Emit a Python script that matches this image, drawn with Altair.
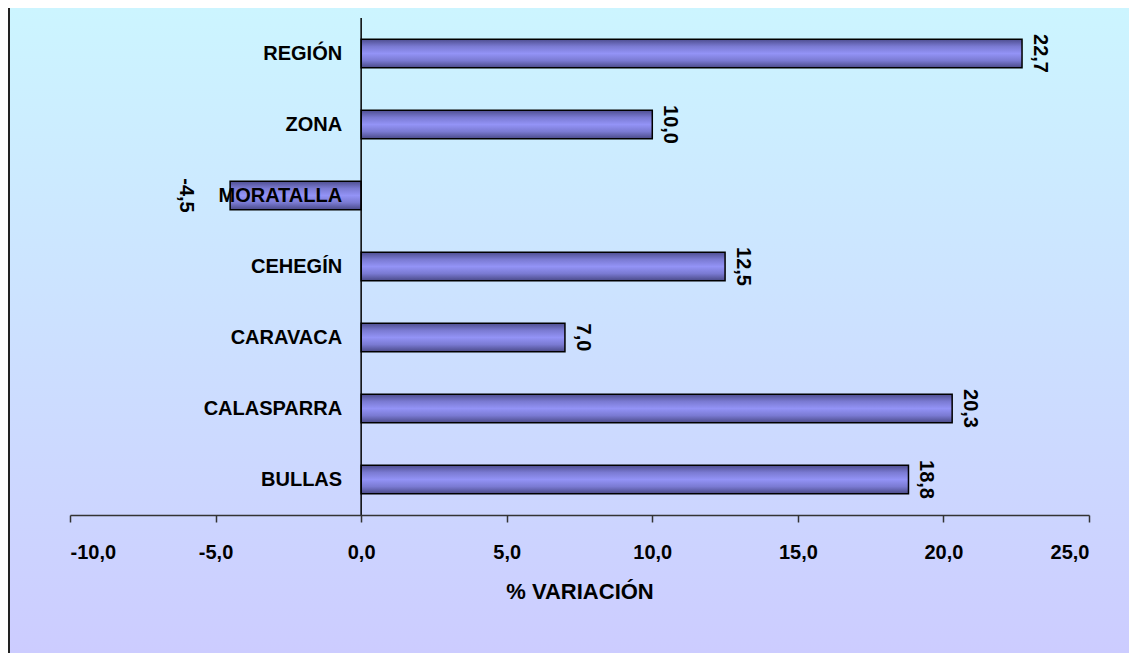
import altair as alt
import pandas as pd

categories = ["REGIÓN", "ZONA", "MORATALLA", "CEHEGÍN", "CARAVACA", "CALASPARRA", "BULLAS"]
values = [22.7, 10.0, -4.5, 12.5, 7.0, 20.3, 18.8]
x_ticks = [-10, -5, 0, 5, 10, 15, 20, 25]

df = pd.DataFrame({"cat": categories, "value": values})

W, H = 1019, 497
PAD = {"left": 62, "top": 10, "right": 40, "bottom": 138}
FONT = "Liberation Sans"
FMT = "replace(replace(format(datum.value, '.1f'), '.', ','), '\u2212', '-')"

xscale = alt.Scale(domain=[-10, 25], nice=False, zero=False)
yscale = alt.Scale(domain=categories, paddingInner=0.6, paddingOuter=0.3)

bg = alt.Chart(alt.Data(values=[{}])).mark_rect(
    color=alt.Gradient(
        gradient="linear",
        stops=[alt.GradientStop(color="#CCF5FF", offset=0),
               alt.GradientStop(color="#CCCCFF", offset=1)],
        x1=0, x2=0, y1=0, y2=1,
    )
).encode(
    x=alt.value(-PAD["left"]), x2=alt.value(W + PAD["right"]),
    y=alt.value(-PAD["top"]), y2=alt.value(H + PAD["bottom"]),
)

border = alt.Chart(alt.Data(values=[{}])).mark_rule(color="#222222", strokeWidth=2).encode(
    x=alt.value(-PAD["left"] + 1), y=alt.value(-PAD["top"]), y2=alt.value(H + PAD["bottom"])
)

base = alt.Chart(df).transform_calculate(label=FMT)

xaxis = alt.Axis(values=x_ticks, title="% VARIACIÓN", grid=False, zindex=1,
                 labelExpr=FMT,
                 labelFont=FONT, labelFontSize=20, labelFontWeight="bold",
                 labelColor="black", labelPadding=20,
                 tickSize=7, tickColor="#333333", tickWidth=1.5,
                 domainColor="#333333", domainWidth=1.5,
                 titleFont=FONT, titleFontSize=22, titleFontWeight="bold",
                 titleColor="black", titleBaseline="alphabetic", titleY=83)

bars = base.mark_bar(
    color=alt.Gradient(
        gradient="linear",
        stops=[alt.GradientStop(color="#4e4e90", offset=0),
               alt.GradientStop(color="#7a7ad2", offset=0.25),
               alt.GradientStop(color="#9393f6", offset=0.5),
               alt.GradientStop(color="#7a7ad2", offset=0.75),
               alt.GradientStop(color="#4a4a88", offset=1)],
        x1=0, x2=0, y1=0, y2=1,
    ),
    stroke="black", strokeWidth=1.5,
).encode(
    x=alt.X("value:Q", scale=xscale, axis=xaxis),
    x2=alt.X2(datum=0),
    y=alt.Y("cat:N", scale=yscale, sort=categories, axis=None),
)

zero_rule = alt.Chart(alt.Data(values=[{}])).mark_rule(color="black", strokeWidth=1.5).encode(
    x=alt.X(datum=0, type="quantitative", scale=xscale),
    y=alt.value(0), y2=alt.value(H),
)

cat_text = base.mark_text(
    align="right", baseline="middle", dx=-19,
    font=FONT, fontSize=20, fontWeight="bold", color="black",
).encode(
    x=alt.X(datum=0, type="quantitative", scale=xscale),
    y=alt.Y("cat:N", scale=yscale, sort=categories, axis=None),
    text="cat:N",
)

pos_text = base.transform_filter("datum.value >= 0").mark_text(
    angle=90, align="center", baseline="alphabetic", dy=-12,
    font=FONT, fontSize=20, fontWeight="bold", color="black",
).encode(
    x=alt.X("value:Q", scale=xscale),
    y=alt.Y("cat:N", scale=yscale, sort=categories, axis=None),
    text="label:N",
)

neg_text = base.transform_filter("datum.value < 0").mark_text(
    angle=90, align="center", baseline="alphabetic", dy=50,
    font=FONT, fontSize=20, fontWeight="bold", color="black",
).encode(
    x=alt.X("value:Q", scale=xscale),
    y=alt.Y("cat:N", scale=yscale, sort=categories, axis=None),
    text="label:N",
)

chart = alt.layer(bg, border, bars, zero_rule, cat_text, pos_text, neg_text).properties(
    width=W, height=H,
    padding=PAD,
    autosize=alt.AutoSizeParams(type="none"),
    background="white",
).configure_view(stroke=None)

chart.save("out.html", embed_options={"renderer": "svg", "actions": False})
